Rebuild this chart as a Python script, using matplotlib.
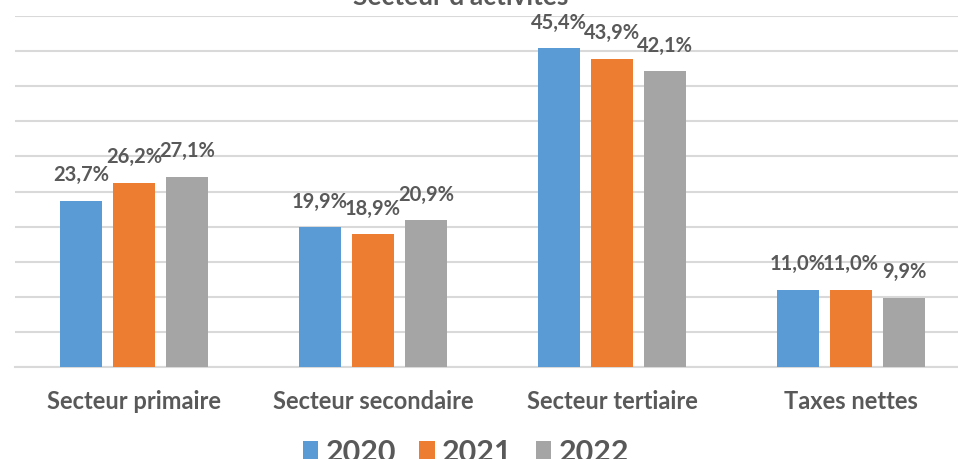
import matplotlib
matplotlib.use("Agg")
import matplotlib.pyplot as plt
import numpy as np
from matplotlib.patches import Patch

# Données
CATEGORIES = ["Secteur primaire", "Secteur secondaire", "Secteur tertiaire", "Taxes nettes"]
YEARS = ["2020", "2021", "2022"]
VALUES_2020 = [23.7, 19.9, 45.4, 11.0]
VALUES_2021 = [26.2, 18.9, 43.9, 11.0]
VALUES_2022 = [27.1, 20.9, 42.1, 9.9]
TITLE = "Secteur d'activités"

COLORS = ["#5B9BD5", "#ED7D31", "#A5A5A5"]
TEXT_COLOR = "#595959"
GRID_COLOR = "#D9D9D9"
FONT = "Lato"
WEIGHT = "bold"

W, H = 958, 460


def main() -> None:
    plt.rcParams["font.family"] = [FONT, "DejaVu Sans"]
    fig = plt.figure(figsize=(W / 100, H / 100), dpi=100)

    # zone de tracé (en pixels) : gauche 14.5, bas 368, haut 17
    left = 14.5 / W
    bottom = (H - 368) / H
    top = (H - 17) / H
    ax = fig.add_axes([left, bottom, 1 - left, top - bottom])

    x = np.arange(len(CATEGORIES))
    width = 0.175
    step = 0.222
    series = [VALUES_2020, VALUES_2021, VALUES_2022]

    for i, (vals, color) in enumerate(zip(series, COLORS)):
        bars = ax.bar(x + (i - 1) * step, vals, width=width, color=color, zorder=3)
        ax.bar_label(
            bars,
            labels=[f"{v:.1f}%".replace(".", ",") for v in vals],
            padding=12,
            fontsize=14.5,
            fontweight=WEIGHT,
            color=TEXT_COLOR,
        )

    ax.set_ylim(0, 50)
    ax.set_yticks(np.arange(0, 51, 5))
    ax.set_xlim(-0.5, 3.5 - (970.5 - W) / 239)
    ax.grid(axis="y", color=GRID_COLOR, linewidth=1.5, zorder=0)
    ax.tick_params(axis="y", left=False, labelleft=False)
    ax.tick_params(axis="x", bottom=False, pad=12)
    ax.set_xticks(x)
    ax.set_xticklabels(CATEGORIES, fontsize=17, fontweight=WEIGHT, color=TEXT_COLOR)
    for side in ["left", "right", "top"]:
        ax.spines[side].set_visible(False)
    ax.spines["bottom"].set_color(GRID_COLOR)
    ax.spines["bottom"].set_linewidth(1.5)

    fig.text(0.481, (H - 5) / H, TITLE, ha="center", va="baseline",
             fontsize=19, fontweight=WEIGHT, color=TEXT_COLOR)

    handles = [Patch(facecolor=c, edgecolor="none") for c in COLORS]
    fig.legend(
        handles, YEARS,
        loc="center", bbox_to_anchor=(466 / W, (H - 453) / H),
        ncol=3, frameon=False,
        prop={"family": [FONT, "DejaVu Sans"], "weight": WEIGHT, "size": 22},
        handlelength=0.5, handleheight=0.5, handletextpad=0.25, columnspacing=0.75,
        labelcolor=TEXT_COLOR,
    )

    fig.savefig("out.png", dpi=100)
    plt.close(fig)


if __name__ == "__main__":
    main()
